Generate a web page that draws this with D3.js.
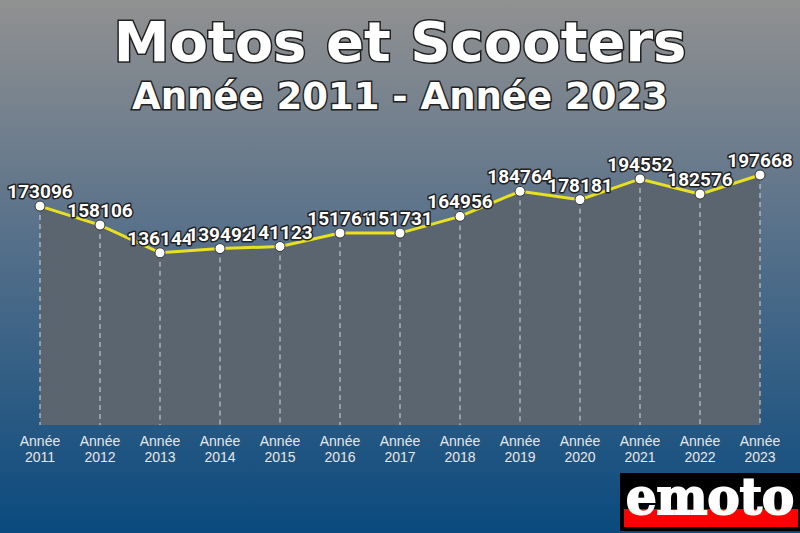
<!DOCTYPE html>
<html><head><meta charset="utf-8">
<script src="https://cdn.jsdelivr.net/npm/d3@7/dist/d3.min.js"></script>
<style>body{margin:0;padding:0;overflow:hidden}svg{display:block}</style>
</head><body>
<script>
const years = ["2011","2012","2013","2014","2015","2016","2017","2018","2019","2020","2021","2022","2023"];
const values = [173096,158106,136144,139492,141123,151761,151731,164956,184764,178181,194552,182576,197668];
const title = "Motos et Scooters";
const subtitle = "Année 2011 - Année 2023";
const tickPrefix = "Année";

const W = 800, H = 533;
const svg = d3.select("body").append("svg").attr("width", W).attr("height", H);
const defs = svg.append("defs");
const bg = defs.append("linearGradient").attr("id","bg").attr("x1",0).attr("y1",0).attr("x2",0).attr("y2",1);
bg.append("stop").attr("offset","0%").attr("stop-color","#919191");
bg.append("stop").attr("offset","45%").attr("stop-color","#56708a");
bg.append("stop").attr("offset","100%").attr("stop-color","#0a4a7e");
svg.append("rect").attr("width",W).attr("height",H).attr("fill","url(#bg)");

const x = d3.scalePoint().domain(years).range([40,760]);
const y = d3.scaleLinear().domain([0, d3.max(values)]).range([425,175]);
const data = years.map((yr,i)=>({yr, v: values[i]}));

svg.append("path").datum(data)
  .attr("d", d3.area().x(d=>x(d.yr)).y0(y(0)).y1(d=>y(d.v)))
  .attr("fill","#5b6570");

svg.selectAll("line.grid").data(data).enter().append("line")
  .attr("x1",d=>x(d.yr)).attr("x2",d=>x(d.yr))
  .attr("y1",d=>y(d.v)).attr("y2",y(0))
  .attr("stroke","#d8d8d8").attr("stroke-width",1).attr("stroke-dasharray","5,4");

svg.append("path").datum(data)
  .attr("d", d3.line().x(d=>x(d.yr)).y(d=>y(d.v)))
  .attr("fill","none").attr("stroke","#e8e020").attr("stroke-width",3);

svg.selectAll("circle").data(data).enter().append("circle")
  .attr("cx",d=>x(d.yr)).attr("cy",d=>y(d.v)).attr("r",5)
  .attr("fill","#fff").attr("stroke","#333").attr("stroke-width",1);

const lbl = svg.append("g");
lbl.selectAll("text").data(data).enter().append("text")
  .attr("x",d=>x(d.yr)).attr("y",d=>y(d.v)-8)
  .attr("text-anchor","middle")
  .attr("font-family","Roboto, sans-serif").attr("font-weight","bold").attr("font-size",19)
  .attr("fill","#fff").attr("stroke","#222").attr("stroke-width",3).attr("paint-order","stroke")
  .attr("stroke-linejoin","round")
  .text(d=>d.v);

// x axis labels
const xl = svg.append("g").attr("font-family","Liberation Sans, Arial, sans-serif").attr("font-size",14).attr("fill","#e6e6e6");
data.forEach(d=>{
  const t = xl.append("text").attr("x",x(d.yr)).attr("text-anchor","middle");
  t.append("tspan").attr("x",x(d.yr)).attr("y",446).text(tickPrefix);
  t.append("tspan").attr("x",x(d.yr)).attr("y",462).text(d.yr);
});

// titles
svg.append("text").attr("x",W/2).attr("y",61).attr("text-anchor","middle")
  .attr("font-family","DejaVu Sans, sans-serif").attr("font-weight","bold").attr("font-size",56)
  .attr("fill","#fff").attr("stroke","#222").attr("stroke-width",3).attr("paint-order","stroke")
  .text(title);
svg.append("text").attr("x",W/2).attr("y",109).attr("text-anchor","middle")
  .attr("font-family","DejaVu Sans, sans-serif").attr("font-weight","bold").attr("font-size",37)
  .attr("fill","#fff").attr("stroke","#222").attr("stroke-width",3).attr("paint-order","stroke")
  .text(subtitle);

// logo
const lg = svg.append("g");
lg.append("rect").attr("x",620).attr("y",473).attr("width",180).attr("height",58).attr("fill","#000");
lg.append("rect").attr("x",624).attr("y",509).attr("width",174).attr("height",18).attr("fill","#ff0000");
lg.append("text").attr("x",626).attr("y",514)
  .attr("font-family","DejaVu Serif, serif").attr("font-weight","bold").attr("font-size",50)
  .attr("textLength",168).attr("lengthAdjust","spacingAndGlyphs")
  .attr("fill","#fff").attr("stroke","#fff").attr("stroke-width",2).text("emoto");
</script>
</body></html>
